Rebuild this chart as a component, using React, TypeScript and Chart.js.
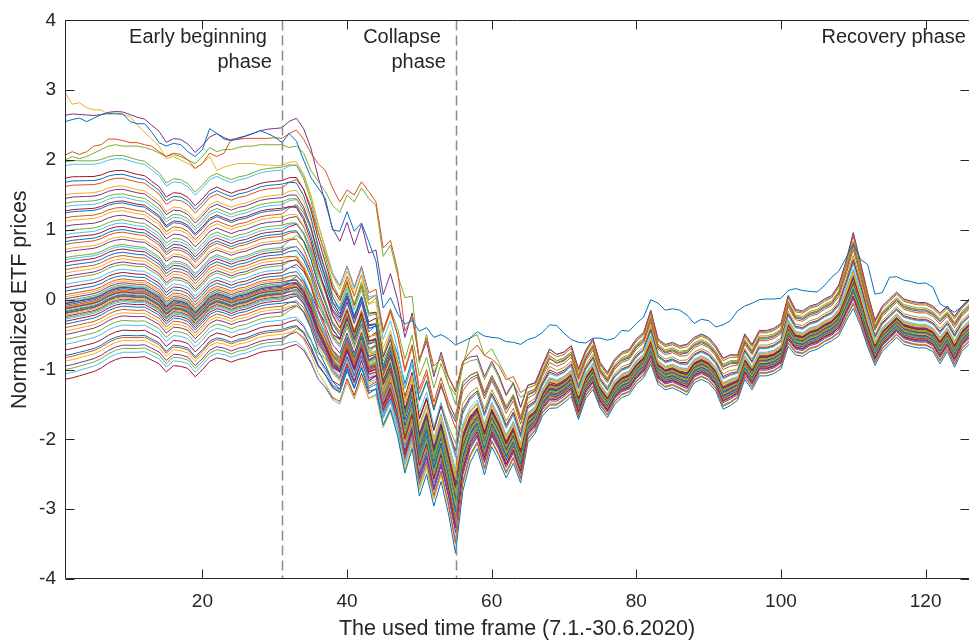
import React, { useEffect, useRef } from "react";
import { Chart, registerables } from "chart.js";

Chart.register(...registerables);

// ---------- data ----------
const timeIndex: number[] = Array.from({ length: 126 }, (_, k) => k + 1);

const xTickValues = [20, 40, 60, 80, 100, 120];
const yTickValues = [-4, -3, -2, -1, 0, 1, 2, 3, 4];
const phaseBoundaries = [31, 55];

// path of the dense core of the ETF bundle
const marketPath = [
  -0.10, -0.08, -0.06, -0.04, -0.02, 0.02, 0.08, 0.12, 0.14, 0.13,
  0.12, 0.12, 0.06, 0.00, -0.13, -0.05, -0.06, -0.10, -0.22, -0.12,
  0.00, 0.05, 0.02, -0.02, 0.02, 0.04, 0.08, 0.12, 0.14, 0.15,
  0.16, 0.20, 0.22, 0.10, -0.12, -0.42, -0.62, -0.85, -0.95, -0.65,
  -0.92, -0.62, -0.95, -0.90, -1.40, -1.15, -1.50, -2.00, -1.65, -2.30,
  -2.00, -2.45, -2.10, -2.50, -2.95, -2.20, -1.90, -1.75, -2.10, -1.75,
  -1.95, -2.20, -2.00, -2.30, -1.80, -1.70, -1.45, -1.30, -1.32, -1.26,
  -1.17, -1.50, -1.21, -1.07, -1.36, -1.50, -1.31, -1.21, -1.17, -1.02,
  -0.93, -0.69, -1.02, -1.10, -1.07, -1.12, -1.15, -1.00, -0.95, -1.00,
  -1.12, -1.35, -1.30, -1.25, -0.95, -1.10, -0.90, -0.90, -0.87, -0.80,
  -0.45, -0.60, -0.62, -0.55, -0.52, -0.45, -0.40, -0.30, -0.05, 0.20,
  -0.10, -0.45, -0.75, -0.55, -0.45, -0.35, -0.45, -0.48, -0.50, -0.50,
  -0.55, -0.70, -0.55, -0.75, -0.55, -0.45,
];

// how far the early (January) ordering of the ETFs is kept over time
const earlySpread = [
  1.00, 1.00, 0.99, 0.98, 0.97, 0.96, 0.95, 0.94, 0.93, 0.92,
  0.91, 0.90, 0.89, 0.88, 0.87, 0.86, 0.86, 0.85, 0.85, 0.85,
  0.85, 0.85, 0.84, 0.84, 0.84, 0.84, 0.84, 0.84, 0.84, 0.84,
  0.84, 0.84, 0.83, 0.80, 0.76, 0.70, 0.62, 0.55, 0.50, 0.48,
  0.45, 0.44, 0.40, 0.38, 0.30, 0.30, 0.26, 0.22, 0.22, 0.18,
  0.18, 0.15, 0.15, 0.13, 0.12, 0.10, 0.09, 0.08, 0.08, 0.07,
  0.07, 0.06, 0.06, 0.05, 0.04, 0.035, 0.035, 0.035, 0.035, 0.035,
  0.035, 0.035, 0.035, 0.035, 0.035, 0.035, 0.035, 0.035, 0.035, 0.035,
  0.035, 0.035, 0.035, 0.035, 0.035, 0.035, 0.035, 0.035, 0.035, 0.035,
  0.035, 0.035, 0.035, 0.035, 0.035, 0.035, 0.035, 0.035, 0.035, 0.035,
  0.035, 0.035, 0.035, 0.035, 0.035, 0.035, 0.035, 0.035, 0.04, 0.05,
  0.04, 0.035, 0.035, 0.035, 0.035, 0.035, 0.035, 0.035, 0.035, 0.035,
  0.035, 0.035, 0.035, 0.035, 0.035, 0.035,
];

// width of the bundle in the collapse / recovery phases
const lateSpread = [
  0, 0, 0, 0, 0, 0, 0, 0, 0, 0,
  0, 0, 0, 0, 0, 0, 0, 0, 0, 0,
  0, 0, 0, 0, 0, 0, 0, 0, 0, 0,
  0, 0.02, 0.04, 0.06, 0.08, 0.10, 0.12, 0.14, 0.16, 0.17,
  0.18, 0.19, 0.20, 0.22, 0.25, 0.27, 0.30, 0.33, 0.33, 0.36,
  0.35, 0.36, 0.36, 0.40, 0.50, 0.40, 0.32, 0.28, 0.30, 0.26,
  0.26, 0.26, 0.25, 0.24, 0.18, 0.16, 0.16, 0.19, 0.17, 0.16,
  0.16, 0.16, 0.15, 0.16, 0.14, 0.14, 0.14, 0.14, 0.14, 0.14,
  0.14, 0.17, 0.14, 0.14, 0.14, 0.14, 0.16, 0.14, 0.14, 0.14,
  0.14, 0.16, 0.16, 0.14, 0.14, 0.14, 0.14, 0.14, 0.14, 0.14,
  0.16, 0.14, 0.14, 0.14, 0.14, 0.14, 0.14, 0.16, 0.19, 0.24,
  0.20, 0.17, 0.14, 0.14, 0.14, 0.14, 0.14, 0.14, 0.14, 0.14,
  0.14, 0.16, 0.14, 0.16, 0.14, 0.14,
];

// normalized price of each ETF at the first day
const etfStartLevels = [
  2.97, 2.64, 1.97, 1.92, 1.74, 1.68, 1.62, 1.50, 1.45, 1.38,
  1.33, 1.27, 1.24, 1.17, 1.12, 1.05, 0.98, 0.93, 0.88, 0.83,
  0.79, 0.72, 0.68, 0.60, 0.57, 0.53, 0.48, 0.43, 0.38, 0.33,
  0.29, 0.22, 0.17, 0.12, 0.07, 0.04, 0.01, -0.02, -0.04, -0.06,
  -0.08, -0.10, -0.11, -0.13, -0.14, -0.16, -0.17, -0.19, -0.20, -0.22,
  -0.24, -0.26, -0.28, -0.31, -0.35, -0.40, -0.45, -0.50, -0.57, -0.64,
  -0.72, -0.80, -0.83, -0.88, -0.95, -1.00, -1.06, -1.14, -0.05, -0.12,
  -0.18,
];

// position of each ETF inside the bundle after the collapse
const etfLateOffsets = [
  0.3, 2.6, -0.4, 0.9, 0.1, -0.6, 1.8, 0.5, -0.2, 0.0,
  0.7, -0.9, 0.2, 2.2, -0.3, 0.4, -0.5, 0.6, 1.2, -0.1,
  0.3, -0.7, 0.0, 3.0, -0.4, 0.5, 0.1, -1.2, 0.2, -0.2,
  0.8, -0.6, 1.5, 0.0, -0.3, 0.4, -0.8, 0.1, 0.6, -0.5,
  2.4, -0.1, 0.3, -0.4, 0.2, -1.0, 0.5, 0.0, -0.2, 1.0,
  -0.6, 0.3, -0.3, 0.1, -1.3, 0.4, -0.1, 0.7, 1.9, -0.5,
  0.2, -0.2, 0.0, -0.8, 0.6, 2.8, -0.4, 0.1, -0.3, 0.5,
  -1.1,
];

// the highest ETF of January, falling through the others
const leaderEarly = [
  2.97, 2.80, 2.82, 2.75, 2.72, 2.72, 2.65, 2.68, 2.65, 2.62,
  2.50, 2.40, 2.30, 2.20, 2.02, 2.05, 2.00, 1.95, 1.88, 1.95,
  2.05, 1.85, 1.90, 1.93, 1.95, 1.95, 1.95, 1.93, 1.93, 1.92,
];
const leaderLevel = 2.0;

// the ETF that stays above the bundle after the collapse
const outlierEtf = [
  2.55, 2.58, 2.60, 2.55, 2.60, 2.65, 2.67, 2.66, 2.66, 2.55,
  2.52, 2.52, 2.40, 2.25, 2.20, 2.24, 2.22, 2.12, 2.05, 2.15,
  2.45, 2.38, 2.30, 2.28, 2.30, 2.35, 2.38, 2.42, 2.38, 2.33,
  2.25, 2.38, 2.27, 2.00, 1.75, 1.60, 1.45, 1.00, 0.98, 1.26,
  0.98, 1.10, 0.83, 0.55, -0.12, 0.03, -0.20, -0.35, -0.30, -0.45,
  -0.40, -0.54, -0.50, -0.56, -0.65, -0.60, -0.55, -0.46, -0.52, -0.54,
  -0.55, -0.60, -0.61, -0.64, -0.57, -0.54, -0.47, -0.36, -0.37, -0.48,
  -0.57, -0.61, -0.62, -0.55, -0.55, -0.58, -0.55, -0.44, -0.45, -0.34,
  -0.25, 0.00, -0.05, -0.15, -0.13, -0.15, -0.22, -0.34, -0.28, -0.30,
  -0.39, -0.36, -0.30, -0.16, -0.09, -0.05, 0.00, 0.01, 0.01, 0.02,
  0.13, 0.16, 0.13, 0.12, 0.11, 0.20, 0.32, 0.41, 0.60, 0.80,
  0.58, 0.50, 0.08, 0.10, 0.32, 0.33, 0.28, 0.26, 0.23, 0.24,
  0.18, -0.06, -0.12, -0.18, -0.10, 0.00,
];

// two ETFs that fall late during the collapse (first 64 days)
const laggardOrange = [
  2.07, 2.12, 2.08, 2.12, 2.20, 2.22, 2.30, 2.30, 2.28, 2.25,
  2.25, 2.22, 2.20, 2.12, 2.05, 2.10, 2.08, 2.00, 1.88, 1.95,
  2.10, 2.05, 2.10, 2.30, 2.30, 2.31, 2.31, 2.31, 2.31, 2.32,
  2.31, 2.38, 2.43, 2.30, 2.10, 1.95, 1.85, 1.60, 1.40, 1.57,
  1.50, 1.69, 1.55, 1.40, 0.74, 0.85, 0.42, -0.45, -0.25, -0.85,
  -0.55, -0.95, -0.85, -1.10, -1.30, -0.90, -0.75, -0.65, -0.80, -0.85,
  -0.95, -1.15, -1.10, -1.33,
];
const laggardGreen = [
  2.00, 2.05, 2.02, 2.05, 2.10, 2.15, 2.20, 2.22, 2.20, 2.20,
  2.20, 2.18, 2.15, 2.10, 2.05, 2.08, 2.05, 2.00, 1.95, 2.05,
  2.18, 2.12, 2.15, 2.15, 2.18, 2.20, 2.20, 2.22, 2.22, 2.22,
  2.22, 2.18, 2.20, 2.10, 1.85, 1.70, 1.55, 1.35, 1.25, 1.50,
  1.40, 1.60, 1.45, 1.35, 0.62, 0.78, 0.35, 0.03, 0.05, -0.90,
  -0.50, -1.05, -0.80, -1.20, -1.50, -0.95, -0.55, -0.50, -0.80, -0.70,
  -0.90, -1.10, -1.20, -1.40,
];
const laggardLevels = [2.07, 2.0];
const laggardLateOffsets = [2.5, 2.2];

const phaseLabels = [
  { text: "Early beginning", x: 28.93, y: 3.758, align: "right" },
  { text: "phase", x: 29.62, y: 3.401, align: "right" },
  { text: "Collapse", x: 52.99, y: 3.758, align: "right" },
  { text: "phase", x: 53.68, y: 3.401, align: "right" },
  { text: "Recovery phase", x: 125.58, y: 3.758, align: "right" },
];

const xAxisTitle = "The used time frame (7.1.-30.6.2020)";
const yAxisTitle = "Normalized ETF prices";

// ---------- styling ----------
const palette = ["#0072BD", "#D95319", "#EDB120", "#7E2F8E", "#77AC30", "#4DBEEE", "#A2142F"];
const FONT = "'Liberation Sans', Arial, Helvetica, sans-serif";
const TEXT = "#262626";

function bundleValue(level: number, late: number, k: number): number {
  return marketPath[k] + (level - marketPath[0]) * earlySpread[k] + late * lateSpread[k];
}

function buildDatasets() {
  const sets: any[] = [];
  const mk = (vals: number[], color: string) => ({
    data: vals.map((v, k) => ({ x: timeIndex[k], y: v })),
    borderColor: color,
    borderWidth: 1,
    pointRadius: 0,
    fill: false,
    tension: 0,
  });
  sets.push(mk(outlierEtf, palette[0]));
  const lag = [laggardOrange, laggardGreen];
  lag.forEach((arr, j) => {
    const vals = timeIndex.map((_, k) =>
      k < arr.length ? arr[k] : bundleValue(laggardLevels[j], laggardLateOffsets[j], k)
    );
    sets.push(mk(vals, j === 0 ? palette[1] : palette[4]));
  });
  etfStartLevels.forEach((lvl, i) => {
    const vals = timeIndex.map((_, k) => {
      if (i === 0 && k < leaderEarly.length) return leaderEarly[k];
      return bundleValue(i === 0 ? leaderLevel : lvl, etfLateOffsets[i], k);
    });
    sets.push(mk(vals, palette[(i + 2) % palette.length]));
  });
  return sets;
}

const decorPlugin = {
  id: "decor",
  afterDatasetsDraw(chart: any) {
    const { ctx, chartArea: a, scales } = chart;
    const x = scales.x;
    const y = scales.y;
    ctx.save();
    // phase separators
    ctx.strokeStyle = "#8c8c8c";
    ctx.lineWidth = 1.5;
    ctx.setLineDash([10, 5]);
    phaseBoundaries.forEach((b) => {
      const px = Math.round(x.getPixelForValue(b)) + 0.5;
      ctx.beginPath();
      ctx.moveTo(px, a.top);
      ctx.lineTo(px, a.bottom);
      ctx.stroke();
    });
    ctx.setLineDash([]);
    // frame (right edge falls just outside the page, as in the reference)
    ctx.strokeStyle = TEXT;
    ctx.lineWidth = 1;
    const L = Math.round(a.left) + 0.5;
    const R = Math.round(a.right) + 0.5;
    const T = Math.round(a.top) + 0.5;
    const B = Math.round(a.bottom) - 0.5;
    ctx.beginPath();
    ctx.moveTo(L, T);
    ctx.lineTo(R, T);
    ctx.lineTo(R, B);
    ctx.lineTo(L, B);
    ctx.closePath();
    ctx.stroke();
    // inward ticks
    const tl = 9;
    ctx.beginPath();
    xTickValues.forEach((v) => {
      const px = Math.round(x.getPixelForValue(v)) + 0.5;
      ctx.moveTo(px, B);
      ctx.lineTo(px, B - tl);
      ctx.moveTo(px, T);
      ctx.lineTo(px, T + tl);
    });
    yTickValues.forEach((v) => {
      const py = Math.round(y.getPixelForValue(v)) + 0.5;
      ctx.moveTo(L, py);
      ctx.lineTo(L + tl, py);
      ctx.moveTo(R, py);
      ctx.lineTo(R - tl, py);
    });
    ctx.stroke();
    ctx.restore();
  },
  afterDraw(chart: any) {
    const { ctx, chartArea: a, scales } = chart;
    const x = scales.x;
    const y = scales.y;
    ctx.save();
    ctx.fillStyle = TEXT;
    ctx.textBaseline = "middle";
    ctx.font = `20px ${FONT}`;
    phaseLabels.forEach((l) => {
      ctx.textAlign = l.align;
      ctx.fillText(l.text, x.getPixelForValue(l.x), y.getPixelForValue(l.y));
    });
    ctx.font = `21.5px ${FONT}`;
    ctx.textAlign = "center";
    ctx.fillText(xAxisTitle, (a.left + a.right) / 2, 629);
    ctx.translate(20, (a.top + a.bottom) / 2);
    ctx.rotate(-Math.PI / 2);
    ctx.fillText(yAxisTitle, 0, 0);
    ctx.restore();
  },
};

export default function App() {
  const ref = useRef<HTMLCanvasElement | null>(null);
  useEffect(() => {
    document.body.style.margin = "0";
    const chart = new Chart(ref.current as HTMLCanvasElement, {
      type: "line",
      data: { datasets: buildDatasets() },
      options: {
        animation: false,
        responsive: true,
        maintainAspectRatio: false,
        parsing: false,
        normalized: true,
        layout: { padding: { top: 18, right: 0, bottom: 0, left: 0 } },
        plugins: {
          legend: { display: false },
          tooltip: { enabled: false },
          title: { display: false },
        },
        elements: { point: { radius: 0 }, line: { borderWidth: 1, tension: 0 } },
        scales: {
          x: {
            type: "linear",
            min: 1,
            max: 126,
            grid: { display: false, drawTicks: false },
            border: { display: false },
            ticks: {
              font: { size: 19, family: FONT },
              color: TEXT,
              padding: 11,
              maxRotation: 0,
              autoSkip: false,
            },
            afterBuildTicks: (s: any) => {
              s.ticks = xTickValues.map((v) => ({ value: v }));
            },
            afterFit: (s: any) => {
              s.height = 61;
            },
          },
          y: {
            type: "linear",
            min: -4,
            max: 4,
            grid: { display: false, drawTicks: false },
            border: { display: false },
            ticks: {
              stepSize: 1,
              font: { size: 19, family: FONT },
              color: TEXT,
              padding: 9,
            },
            afterFit: (s: any) => {
              s.width = 65;
            },
          },
        },
      } as any,
      plugins: [decorPlugin as any],
    });
    return () => chart.destroy();
  }, []);
  return (
    <div style={{ position: "absolute", left: 0, top: 0, width: 969, height: 640, background: "#fff" }}>
      <canvas ref={ref} />
    </div>
  );
}
